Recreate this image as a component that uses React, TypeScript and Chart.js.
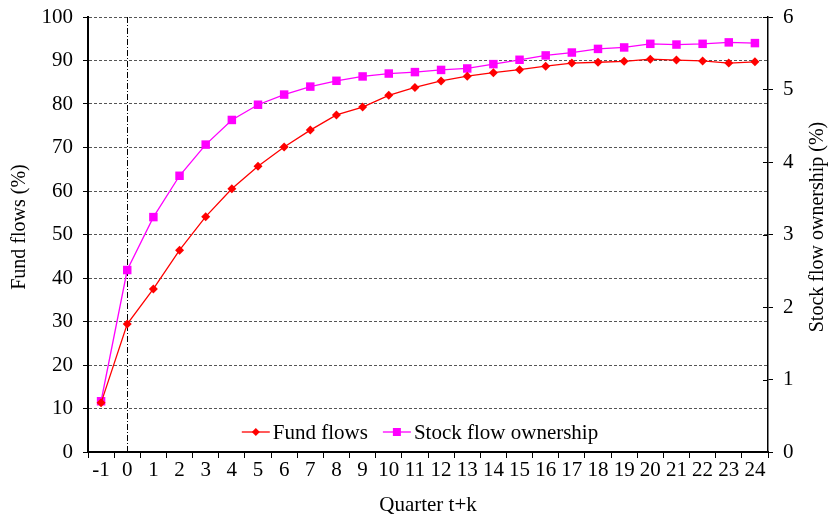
import React, { useEffect, useRef } from "react";
import { Chart, registerables } from "chart.js";

Chart.register(...registerables);

const quarters: string[] = ["-1","0","1","2","3","4","5","6","7","8","9","10","11","12","13","14","15","16","17","18","19","20","21","22","23","24"];
const fundFlows: number[] = [11.3, 29.4, 37.5, 46.4, 54.1, 60.5, 65.7, 70.1, 74.0, 77.5, 79.3, 82.0, 83.8, 85.3, 86.4, 87.2, 87.9, 88.7, 89.4, 89.6, 89.8, 90.3, 90.1, 89.9, 89.4, 89.7];
const stockFlowOwnership: number[] = [0.70, 2.51, 3.24, 3.81, 4.24, 4.58, 4.79, 4.93, 5.04, 5.12, 5.18, 5.22, 5.24, 5.27, 5.29, 5.35, 5.41, 5.47, 5.51, 5.56, 5.58, 5.63, 5.62, 5.63, 5.65, 5.64];
const leftTicks = { min: 0, max: 100, step: 10 };
const rightTicks = { min: 0, max: 6, step: 1 };
const markerLabel = "0";
const leftTitle = "Fund flows (%)";
const rightTitle = "Stock flow ownership (%)";

const FONT = "'Liberation Serif', 'Times New Roman', serif";
const FS = 21;
const TFS = 20;

const extrasPlugin = {
  id: "extras",
  beforeDatasetsDraw(chart: any) {
    const { ctx, chartArea, scales } = chart;
    const idx = quarters.indexOf(markerLabel);
    const x = scales.x.getPixelForValue(idx);
    ctx.save();
    ctx.strokeStyle = "#000";
    ctx.lineWidth = 1;
    ctx.setLineDash([6, 2, 1, 2]);
    ctx.beginPath();
    ctx.moveTo(Math.round(x) + 0.5, chartArea.top);
    ctx.lineTo(Math.round(x) + 0.5, chartArea.bottom);
    ctx.stroke();
    ctx.restore();
  },
  afterDraw(chart: any) {
    const { ctx, chartArea, scales } = chart;
    ctx.save();
    // inner half of right-axis tick marks (they cross the axis)
    const y1 = scales.y1;
    ctx.strokeStyle = "#000";
    ctx.lineWidth = 1;
    y1.ticks.forEach((t: any) => {
      const py = Math.round(y1.getPixelForValue(t.value)) + 0.5;
      ctx.beginPath();
      ctx.moveTo(chartArea.right - 5, py);
      ctx.lineTo(chartArea.right, py);
      ctx.stroke();
    });
    // axis titles, both reading bottom to top
    ctx.fillStyle = "#000";
    ctx.font = `${TFS}px ${FONT}`;
    ctx.textAlign = "center";
    ctx.textBaseline = "middle";
    const titleY = 227;
    [[20, leftTitle], [818, rightTitle]].forEach(([tx, txt]: any) => {
      ctx.save();
      ctx.translate(tx, titleY);
      ctx.rotate(-Math.PI / 2);
      ctx.fillText(txt, 0, 0);
      ctx.restore();
    });
    // legend
    ctx.font = `${FS}px ${FONT}`;
    const items = chart.data.datasets.map((d: any) => ({
      label: d.label,
      color: d.borderColor,
      style: d.pointStyle,
    }));
    const lineW = 28;
    const gap = 3;
    const itemGap = 15;
    let total = 0;
    items.forEach((it: any, i: number) => {
      total += lineW + gap + ctx.measureText(it.label).width;
      if (i < items.length - 1) total += itemGap;
    });
    let x = (chartArea.left + chartArea.right) / 2 - 8 - total / 2;
    const y = 432;
    items.forEach((it: any) => {
      ctx.strokeStyle = it.color;
      ctx.lineWidth = 1.3;
      ctx.beginPath();
      ctx.moveTo(x, y);
      ctx.lineTo(x + lineW, y);
      ctx.stroke();
      ctx.fillStyle = it.color;
      const cx = x + lineW / 2;
      const r = 4;
      ctx.beginPath();
      if (it.style === "rect") {
        ctx.rect(cx - r, y - r, 2 * r, 2 * r);
      } else {
        ctx.moveTo(cx, y - r);
        ctx.lineTo(cx + r, y);
        ctx.lineTo(cx, y + r);
        ctx.lineTo(cx - r, y);
        ctx.closePath();
      }
      ctx.fill();
      ctx.fillStyle = "#000";
      ctx.textAlign = "left";
      ctx.textBaseline = "middle";
      ctx.fillText(it.label, x + lineW + gap, y + 1);
      x += lineW + gap + ctx.measureText(it.label).width + itemGap;
    });
    ctx.restore();
  },
};

export default function App() {
  const ref = useRef<HTMLCanvasElement | null>(null);
  useEffect(() => {
    document.body.style.margin = "0";
    const canvas = ref.current;
    if (!canvas) return;
    const chart = new Chart(canvas, {
      type: "line",
      data: {
        labels: quarters,
        datasets: [
          {
            label: "Fund flows",
            data: fundFlows,
            yAxisID: "y",
            borderColor: "#FF0000",
            backgroundColor: "#FF0000",
            borderWidth: 1.3,
            pointStyle: "rectRot",
            pointRadius: 4.5,
            pointBorderWidth: 0,
            tension: 0,
          },
          {
            label: "Stock flow ownership",
            data: stockFlowOwnership,
            yAxisID: "y1",
            borderColor: "#FF00FF",
            backgroundColor: "#FF00FF",
            borderWidth: 1.3,
            pointStyle: "rect",
            pointRadius: 6,
            pointBorderWidth: 0,
            tension: 0,
          },
        ],
      },
      options: {
        animation: false,
        responsive: false,
        devicePixelRatio: 1,
        layout: { padding: { top: 17, left: 0, right: 0, bottom: 0 } },
        plugins: {
          legend: { display: false },
          tooltip: { enabled: false },
        },
        scales: {
          x: {
            offset: true,
            grid: {
              offset: true,
              drawOnChartArea: false,
              color: "#000",
              tickLength: 6,
              lineWidth: 1,
            },
            border: { color: "#000", width: 2 },
            ticks: {
              color: "#000",
              font: { family: FONT, size: FS },
              maxRotation: 0,
              autoSkip: false,
              padding: 0,
            },
            title: {
              display: true,
              text: "Quarter t+k",
              color: "#000",
              font: { family: FONT, size: FS },
              padding: { top: 2, bottom: 0 },
            },
            afterFit(scale: any) {
              scale.height = 66;
              scale.paddingLeft = 0;
              scale.paddingRight = 0;
            },
          },
          y: {
            position: "left",
            min: leftTicks.min,
            max: leftTicks.max,
            ticks: {
              stepSize: leftTicks.step,
              color: "#000",
              font: { family: FONT, size: FS },
              padding: 10,
            },
            grid: {
              color: "#555",
              lineWidth: 1,
              tickLength: 5,
              tickColor: "#000",
              tickBorderDash: [],
              tickWidth: 1,
            } as any,
            border: { color: "#000", width: 2, dash: [3, 2] },
            afterFit(scale: any) {
              scale.width = 88;
              scale.paddingTop = 0;
              scale.paddingBottom = 0;
            },
          },
          y1: {
            position: "right",
            min: rightTicks.min,
            max: rightTicks.max,
            ticks: {
              stepSize: rightTicks.step,
              color: "#000",
              font: { family: FONT, size: FS },
              padding: 10,
            },
            grid: {
              drawOnChartArea: false,
              color: "#000",
              tickLength: 5,
            },
            border: { color: "#000", width: 1.5 },
            afterFit(scale: any) {
              scale.width = 61;
              scale.paddingTop = 0;
              scale.paddingBottom = 0;
            },
          },
        },
      },
      plugins: [extrasPlugin],
    } as any);
    return () => chart.destroy();
  }, []);
  return (
    <div style={{ width: 829, height: 518 }}>
      <canvas ref={ref} width={829} height={518} style={{ display: "block" }} />
    </div>
  );
}
